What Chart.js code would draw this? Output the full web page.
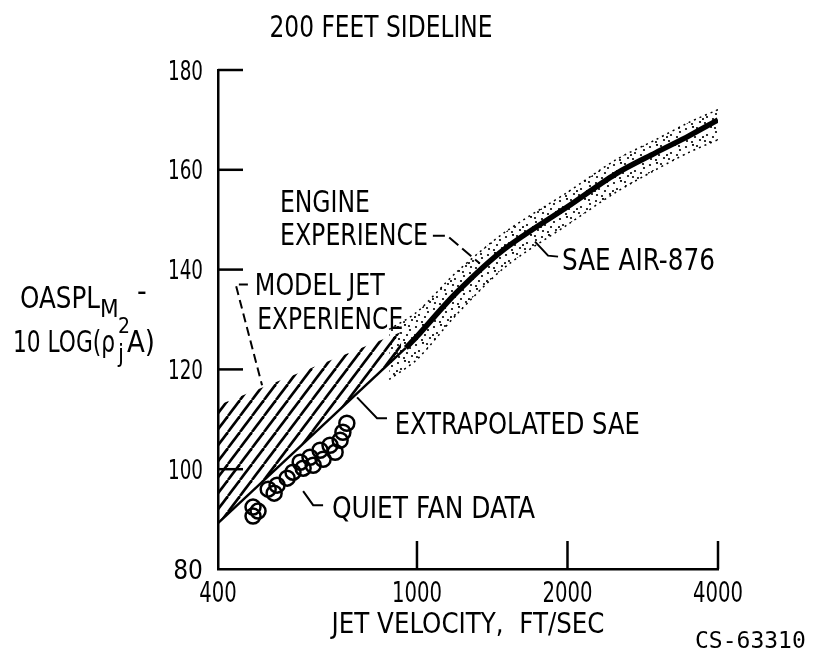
<!DOCTYPE html>
<html>
<head>
<meta charset="utf-8">
<script src="https://cdn.jsdelivr.net/npm/chart.js@4.4.1/dist/chart.umd.min.js"></script>
<style>
  html, body { margin: 0; padding: 0; background: #fff; }
  #wrap { width: 815px; height: 662px; }
</style>
</head>
<body>
<div id="wrap"><canvas id="myChart" width="815" height="662"></canvas></div>
<script>
// values (velocity ft/sec, level dB)
var saeVel = [950, 1000, 1200, 1500, 2000, 2500, 3000, 3500, 4000];
var saeLevel = [124.3, 126.6, 135.4, 144.2, 152.6, 159.2, 163.4, 166.8, 170];

var extrapVel = [400, 950];
var extrapLevel = [89.2, 124.3];

var engineVel = [880, 1000, 1200, 1500, 2000, 2500, 3000, 3500, 4100];
var engineHigh = [128, 131.5, 139.5, 147.5, 155.5, 162, 166, 169.5, 172.5];
var engineLow = [118, 122, 131, 140.5, 149, 155.5, 160, 163.5, 166.5];

var modelVel = [400, 930];
var modelHigh = [112.8, 127.5];
var modelLow = [89.2, 123.4];

var fanVel = [470, 470, 481, 504, 518, 525, 550, 565, 584, 592, 611, 620, 640, 649, 670, 686, 702, 711, 724];
var fanLevel = [92.4, 90.6, 91.6, 96, 95.2, 96.8, 98.2, 99.4, 101.4, 100.2, 102.4, 100.8, 103.8, 102, 104.8, 103.4, 105.8, 107.4, 109.2];

var xTicks = [400, 1000, 2000, 4000];
var yTicks = [80, 100, 120, 140, 160, 180];

var FONT = '"DejaVu Sans Condensed", "DejaVu Sans", sans-serif';

function pts(xs, ys) {
    return xs.map(function(x, i) { return {x: x, y: ys[i]}; });
}

// diagonal hatch for the model jet area
function hatchPattern() {
    var c = document.createElement('canvas');
    c.width = 12; c.height = 16;
    var g = c.getContext('2d');
    g.strokeStyle = '#000';
    g.lineWidth = 2.6;
    [-12, 0, 12].forEach(function(o) {
        g.beginPath();
        g.moveTo(o, 16);
        g.lineTo(o + 12, 0);
        g.stroke();
    });
    return g.createPattern(c, 'repeat');
}

// stipple for the engine experience band
function stipplePattern() {
    var c = document.createElement('canvas');
    c.width = 18; c.height = 18;
    var g = c.getContext('2d');
    g.fillStyle = '#000';
    var dots = [[2, 3], [9, 1], [14, 6], [5, 9], [11, 11], [16, 14], [3, 15], [8, 16], [13, 2], [1, 11]];
    dots.forEach(function(d) {
        g.beginPath();
        g.arc(d[0], d[1], 1.1, 0, Math.PI * 2);
        g.fill();
    });
    return g.createPattern(c, 'repeat');
}

// labels (left edge, centre line, width) and leaders, in data units
var labels = [
    {text: 'ENGINE', v: 532, y: 153.8, w: 90},
    {text: 'EXPERIENCE', v: 532, y: 147.2, w: 148},
    {text: 'SAE AIR-876', v: 1950, y: 142.2, w: 153},
    {text: 'MODEL JET', v: 474, y: 137.2, w: 130},
    {text: 'EXPERIENCE', v: 479, y: 130.4, w: 146},
    {text: 'EXTRAPOLATED SAE', v: 903, y: 109.2, w: 245},
    {text: 'QUIET FAN DATA', v: 676, y: 92.4, w: 203}
];
var leaders = [
    {dash: [12, 5], p: [[1076, 146.8], [1149, 146.8], [1336, 141.2]]},
    {dash: [], p: [[1722, 145.6], [1829, 142.8], [1915, 142.6]]},
    {dash: [9, 5], p: [[459, 137], [434, 137], [490, 116.8]]},
    {dash: [], p: [[759, 114.4], [832, 110.2], [871, 110.2]]},
    {dash: [], p: [[592, 95.6], [620, 92.8], [649, 92.8]]}
];

function txt(ctx, s, x, y, size, w) {
    ctx.font = size + 'px ' + FONT;
    ctx.fillText(s, x, y, w);
}

var decor = {
    id: 'decor',
    afterDraw: function(chart) {
        var ctx = chart.ctx, xs = chart.scales.x, ys = chart.scales.y;
        var a = chart.chartArea;
        ctx.save();
        ctx.strokeStyle = '#000';
        ctx.fillStyle = '#000';
        // inward ticks
        ctx.lineWidth = 2.5;
        yTicks.slice(1).forEach(function(t) {
            var py = ys.getPixelForValue(t);
            ctx.beginPath(); ctx.moveTo(a.left, py); ctx.lineTo(a.left + 25, py); ctx.stroke();
        });
        xTicks.slice(1).forEach(function(t) {
            var px = xs.getPixelForValue(t);
            ctx.beginPath(); ctx.moveTo(px, a.bottom); ctx.lineTo(px, a.bottom - 28); ctx.stroke();
        });
        // tick labels
        ctx.textBaseline = 'alphabetic';
        ctx.textAlign = 'right';
        yTicks.forEach(function(t) {
            txt(ctx, String(t), a.left - 15, ys.getPixelForValue(t) + 9.5, 26, 35);
        });
        ctx.textAlign = 'center';
        xTicks.forEach(function(t) {
            var s = String(t);
            txt(ctx, s, xs.getPixelForValue(t), a.bottom + 33, 28, s.length * 12.5);
        });
        // leaders
        ctx.lineWidth = 2;
        leaders.forEach(function(l) {
            ctx.setLineDash(l.dash);
            ctx.beginPath();
            l.p.forEach(function(q, i) {
                var px = xs.getPixelForValue(q[0]), py = ys.getPixelForValue(q[1]);
                if (i == 0) ctx.moveTo(px, py); else ctx.lineTo(px, py);
            });
            ctx.stroke();
        });
        ctx.setLineDash([]);
        // in-plot labels
        ctx.textAlign = 'left';
        labels.forEach(function(l) {
            txt(ctx, l.text, xs.getPixelForValue(l.v), ys.getPixelForValue(l.y) + 11, 30, l.w);
        });
        // title
        ctx.textAlign = 'center';
        txt(ctx, '200 FEET SIDELINE', 381, 37, 30, 223);
        // x title
        txt(ctx, 'JET VELOCITY,  FT/SEC', 468, 633, 29, 273);
        // y title
        ctx.textAlign = 'left';
        txt(ctx, 'OASPL', 20, 308, 30, 80);
        txt(ctx, 'M', 100, 317, 24, 22);
        txt(ctx, '-', 137, 301, 30, 11);
        txt(ctx, '10 LOG(\u03c1', 13, 352, 30, 102);
        txt(ctx, 'j', 118, 362, 24, 8);
        txt(ctx, '2', 118, 333, 22, 12);
        txt(ctx, 'A)', 127, 352, 30, 28);
        // plate number
        ctx.font = '23px "DejaVu Sans Mono", monospace';
        ctx.fillText('CS-63310', 695, 648, 113);
        ctx.restore();
    }
};

var ctx = document.getElementById('myChart');
var chartFig = new Chart(ctx, {
    type: 'scatter',
    data: {
        datasets: [
            {
                label: 'Quiet fan data',
                data: pts(fanVel, fanLevel),
                showLine: false,
                pointRadius: 7.5,
                pointBorderWidth: 2.5,
                pointBorderColor: '#000',
                pointBackgroundColor: 'rgba(0,0,0,0)'
            },
            {
                label: 'SAE AIR-876',
                data: pts(saeVel, saeLevel),
                showLine: true,
                borderColor: '#000',
                borderWidth: 5.5,
                tension: 0.3,
                pointRadius: 0
            },
            {
                label: 'Extrapolated SAE',
                data: pts(extrapVel, extrapLevel),
                showLine: true,
                borderColor: '#000',
                borderWidth: 2.5,
                pointRadius: 0
            },
            {
                label: 'Engine high',
                data: pts(engineVel, engineHigh),
                showLine: true,
                borderColor: '#000',
                borderWidth: 1.5,
                borderDash: [2, 4],
                tension: 0.3,
                pointRadius: 0,
                fill: '+1',
                backgroundColor: stipplePattern()
            },
            {
                label: 'Engine low',
                data: pts(engineVel, engineLow),
                showLine: true,
                borderColor: '#000',
                borderWidth: 1.5,
                borderDash: [2, 4],
                tension: 0.3,
                pointRadius: 0
            },
            {
                label: 'Model high',
                data: pts(modelVel, modelHigh),
                showLine: true,
                borderWidth: 0,
                borderColor: 'rgba(0,0,0,0)',
                pointRadius: 0,
                fill: '+1',
                backgroundColor: hatchPattern()
            },
            {
                label: 'Model low',
                data: pts(modelVel, modelLow),
                showLine: true,
                borderWidth: 0,
                borderColor: 'rgba(0,0,0,0)',
                pointRadius: 0
            }
        ]
    },
    options: {
        responsive: false,
        animation: false,
        devicePixelRatio: 1,
        layout: { padding: { left: 0, right: 97, top: 70, bottom: 0 } },
        plugins: {
            legend: { display: false },
            tooltip: { enabled: false },
            title: { display: false }
        },
        scales: {
            x: {
                type: 'logarithmic',
                min: 400,
                max: 4000,
                afterBuildTicks: function(s) { s.ticks = xTicks.map(function(v) { return {value: v}; }); },
                afterFit: function(s) { s.height = 93; },
                grid: { display: false, drawTicks: false },
                border: { display: true, color: '#000', width: 2.5 },
                ticks: { display: false }
            },
            y: {
                type: 'linear',
                min: 80,
                max: 180,
                afterBuildTicks: function(s) { s.ticks = yTicks.map(function(v) { return {value: v}; }); },
                afterFit: function(s) { s.width = 218; },
                grid: { display: false, drawTicks: false },
                border: { display: true, color: '#000', width: 2.5 },
                ticks: { display: false }
            }
        }
    },
    plugins: [decor]
});
</script>
</body>
</html>
